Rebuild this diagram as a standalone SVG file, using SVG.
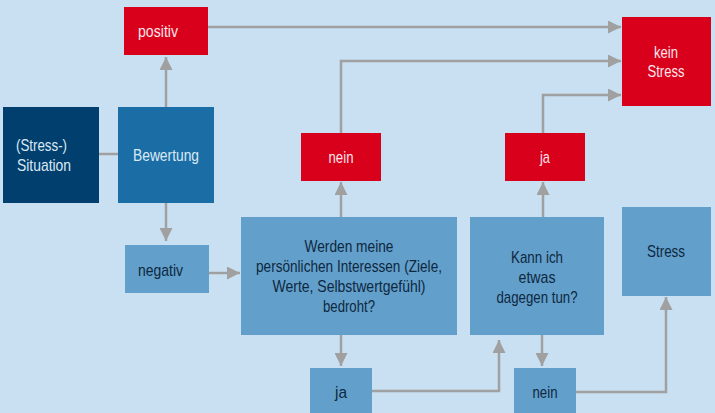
<svg xmlns="http://www.w3.org/2000/svg" width="715" height="413" viewBox="0 0 715 413">
<defs>
<style>
.red{fill:#d9001b}
.mid{fill:#629fcb}
.t{font-family:"Liberation Sans",Arial,sans-serif;font-size:16.2px}
.w{fill:#fbe6ea}
.lw{fill:#dce9f5}
.d{fill:#0e2840}
.c{text-anchor:middle}
.ln{fill:none;stroke:#a0a0a0;stroke-width:2.5}
</style>
<marker id="ah" viewBox="0 0 10 10" refX="10" refY="5" markerWidth="19" markerHeight="13" markerUnits="userSpaceOnUse" orient="auto">
<path d="M0,0 L10,5 L0,10 z" fill="#a0a0a0"/>
</marker>
</defs>
<rect width="715" height="413" fill="#c9dff2"/>
<g id="connectors">
<line class="ln" x1="99" y1="154" x2="118" y2="154"/>
<line class="ln" x1="166" y1="107" x2="166" y2="57" marker-end="url(#ah)"/>
<line class="ln" x1="166" y1="203" x2="166" y2="241" marker-end="url(#ah)"/>
<line class="ln" x1="208" y1="27" x2="621" y2="27" marker-end="url(#ah)"/>
<line class="ln" x1="209" y1="273" x2="240" y2="273" marker-end="url(#ah)"/>
<line class="ln" x1="341" y1="217" x2="341" y2="182" marker-end="url(#ah)"/>
<polyline class="ln" points="341,133 341,61 621,61" marker-end="url(#ah)"/>
<line class="ln" x1="341" y1="335" x2="341" y2="366" marker-end="url(#ah)"/>
<polyline class="ln" points="372,391 499,391 499,340" marker-end="url(#ah)"/>
<line class="ln" x1="543" y1="217" x2="543" y2="182" marker-end="url(#ah)"/>
<polyline class="ln" points="543,133 543,95 621,95" marker-end="url(#ah)"/>
<line class="ln" x1="542" y1="335" x2="542" y2="366" marker-end="url(#ah)"/>
<polyline class="ln" points="576,392 666,392 666,297" marker-end="url(#ah)"/>
</g>
<g id="situation">
<rect x="3" y="107" width="96" height="96" fill="#003f6e"/>
<text class="t lw" x="16" y="151" textLength="51" lengthAdjust="spacingAndGlyphs">(Stress-)</text>
<text class="t lw" x="17" y="171" textLength="54" lengthAdjust="spacingAndGlyphs">Situation</text>
</g>
<g id="bewertung">
<rect x="118" y="107" width="96" height="96" fill="#1a6ea5"/>
<text class="t lw c" x="166" y="161" textLength="66" lengthAdjust="spacingAndGlyphs">Bewertung</text>
</g>
<g id="positiv">
<rect class="red" x="124" y="7" width="84" height="48"/>
<text class="t w" x="138" y="37" textLength="40" lengthAdjust="spacingAndGlyphs">positiv</text>
</g>
<g id="negativ">
<rect class="mid" x="125" y="245" width="84" height="48"/>
<text class="t d" x="138" y="276" textLength="45" lengthAdjust="spacingAndGlyphs">negativ</text>
</g>
<g id="frage1">
<rect class="mid" x="241" y="217" width="216" height="118"/>
<text class="t d c" x="349" y="252" textLength="89" lengthAdjust="spacingAndGlyphs">Werden meine</text>
<text class="t d c" x="349" y="272" textLength="186" lengthAdjust="spacingAndGlyphs">persönlichen Interessen (Ziele,</text>
<text class="t d c" x="349" y="292" textLength="153" lengthAdjust="spacingAndGlyphs">Werte, Selbstwertgefühl)</text>
<text class="t d c" x="349" y="312" textLength="52" lengthAdjust="spacingAndGlyphs">bedroht?</text>
</g>
<g id="nein1">
<rect class="red" x="301" y="133" width="80" height="48"/>
<text class="t w c" x="341" y="163" textLength="25" lengthAdjust="spacingAndGlyphs">nein</text>
</g>
<g id="ja1">
<rect class="mid" x="310" y="368" width="62" height="50"/>
<text class="t d c" x="341" y="398" textLength="12" lengthAdjust="spacingAndGlyphs">ja</text>
</g>
<g id="frage2">
<rect class="mid" x="470" y="217" width="134" height="118"/>
<text class="t d c" x="537" y="263" textLength="52" lengthAdjust="spacingAndGlyphs">Kann ich</text>
<text class="t d c" x="537" y="283" textLength="37" lengthAdjust="spacingAndGlyphs">etwas</text>
<text class="t d c" x="537" y="303" textLength="81" lengthAdjust="spacingAndGlyphs">dagegen tun?</text>
</g>
<g id="ja2">
<rect class="red" x="505" y="133" width="80" height="48"/>
<text class="t w c" x="545" y="163" textLength="10" lengthAdjust="spacingAndGlyphs">ja</text>
</g>
<g id="nein2">
<rect class="mid" x="514" y="368" width="62" height="50"/>
<text class="t d c" x="545" y="398" textLength="25" lengthAdjust="spacingAndGlyphs">nein</text>
</g>
<g id="keinstress">
<rect class="red" x="622" y="17" width="89" height="89"/>
<text class="t w c" x="666" y="58" textLength="24" lengthAdjust="spacingAndGlyphs">kein</text>
<text class="t w c" x="666" y="77" textLength="37" lengthAdjust="spacingAndGlyphs">Stress</text>
</g>
<g id="stress">
<rect class="mid" x="622" y="207" width="89" height="89"/>
<text class="t d c" x="666" y="257" textLength="38" lengthAdjust="spacingAndGlyphs">Stress</text>
</g>
</svg>
